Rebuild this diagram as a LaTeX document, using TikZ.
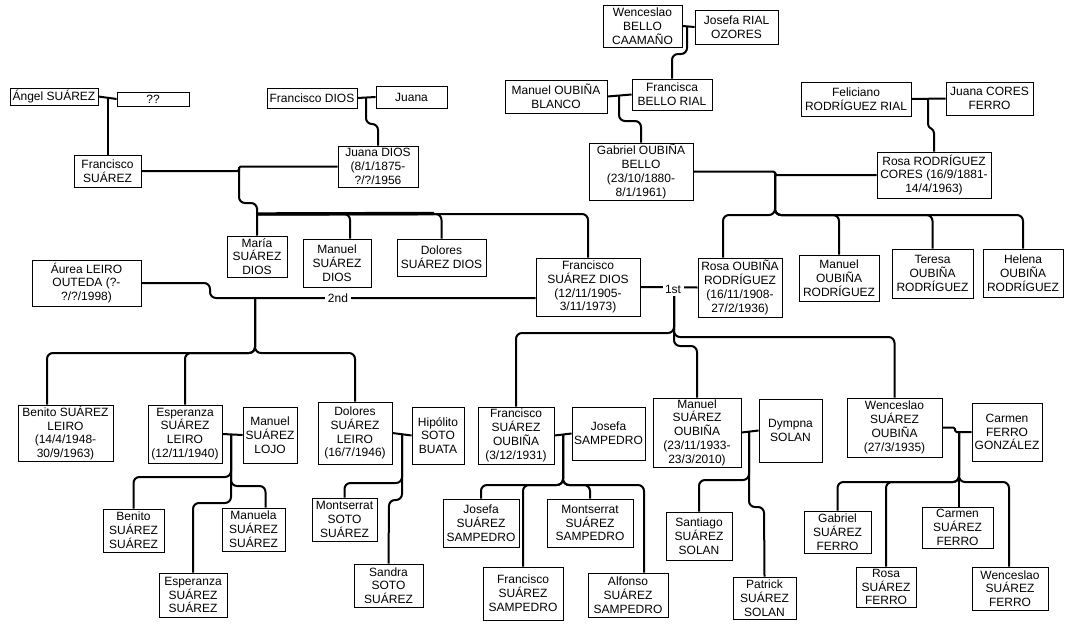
\documentclass[tikz,border=0pt]{standalone}
\usepackage{fontspec}
\setmainfont{Liberation Sans}
\tikzset{
  pbox/.style={draw, line width=0.8pt, inner sep=0pt, align=center, fill=white,
    font=\fontsize{12}{13.8}\selectfont},
  conn/.style={line width=2pt, rounded corners=6pt},
  couple/.style={line width=2pt, rounded corners=1.5pt},
  lbl/.style={fill=white, inner sep=2.5pt, font=\fontsize{12}{13.8}\selectfont}
}
\newcommand\bx[6]{\node[pbox, minimum width={#4-#2}, minimum height={#5-#3}] (#1) at ({(#2+#4)/2},{(#3+#5)/2}) {#6};}
\begin{document}
\begin{tikzpicture}[x=1pt,y=-1pt]
\useasboundingbox[fill=white] (0,0) rectangle (1083,640);
% boxes
\bx{angel}{10}{88}{98}{105}{Ángel SUÁREZ}
\bx{qq}{117}{92}{189}{106}{??}
\bx{fsu}{74}{155}{141}{187}{Francisco\\SUÁREZ}
\bx{fdi}{267}{88}{357}{108}{Francisco DIOS}
\bx{jua}{376}{86}{447}{108}{Juana}
\bx{jdi}{338}{146}{418}{187}{Juana DIOS\\(8/1/1875-\\?/?/1956}
\bx{wbc}{603}{5}{682}{47}{Wenceslao\\BELLO\\CAAMAÑO}
\bx{jro}{695}{10}{778}{44}{Josefa RIAL\\OZORES}
\bx{mob}{505}{80}{607}{113}{Manuel OUBIÑA\\BLANCO}
\bx{fbr}{632}{79}{712}{110}{Francisca\\BELLO RIAL}
\bx{gob}{589}{143}{693}{200}{Gabriel OUBIÑA\\BELLO\\(23/10/1880-\\8/1/1961)}
\bx{frr}{801}{82}{911}{116}{Feliciano\\RODRÍGUEZ RIAL}
\bx{jcf}{946}{82}{1033}{115}{Juana CORES\\FERRO}
\bx{rrc}{877}{152}{991}{198}{Rosa RODRÍGUEZ\\CORES (16/9/1881-\\14/4/1963)}
\bx{msd1}{227}{236}{287}{277}{María\\SUÁREZ\\DIOS}
\bx{msd2}{303}{239}{371}{287}{Manuel\\SUÁREZ\\DIOS}
\bx{dsd}{397}{239}{486}{276}{Dolores\\SUÁREZ DIOS}
\bx{alo}{32}{260}{141}{306}{Áurea LEIRO\\OUTEDA (?-\\?/?/1998)}
\bx{fsd}{536}{258}{640}{316}{Francisco\\SUÁREZ DIOS\\(12/11/1905-\\3/11/1973)}
\bx{rou}{698}{258}{782}{317}{Rosa OUBIÑA\\RODRÍGUEZ\\(16/11/1908-\\27/2/1936)}
\bx{mor}{799}{255}{879}{301}{Manuel\\OUBIÑA\\RODRÍGUEZ}
\bx{tor}{892}{249}{973}{298}{Teresa\\OUBIÑA\\RODRÍGUEZ}
\bx{hor}{983}{249}{1063}{297}{Helena\\OUBIÑA\\RODRÍGUEZ}
\bx{bsl}{18}{405}{113}{461}{Benito SUÁREZ\\LEIRO\\(14/4/1948-\\30/9/1963)}
\bx{esl}{148}{405}{222}{463}{Esperanza\\SUÁREZ\\LEIRO\\(12/11/1940)}
\bx{msl}{243}{407}{297}{463}{Manuel\\SUÁREZ\\LOJO}
\bx{dsl}{318}{402}{392}{464}{Dolores\\SUÁREZ\\LEIRO\\(16/7/1946)}
\bx{hsb}{412}{407}{464}{464}{Hipólito\\SOTO\\BUATA}
\bx{fso}{478}{407}{554}{464}{Francisco\\SUÁREZ\\OUBIÑA\\(3/12/1931)}
\bx{jsa}{572}{407}{645}{460}{Josefa\\SAMPEDRO}
\bx{mso}{653}{398}{741}{467}{Manuel\\SUÁREZ\\OUBIÑA\\(23/11/1933-\\23/3/2010)}
\bx{dym}{759}{399}{822}{462}{Dympna\\SOLAN}
\bx{wso}{847}{398}{942}{457}{Wenceslao\\SUÁREZ\\OUBIÑA\\(27/3/1935)}
\bx{cfg}{972}{403}{1042}{461}{Carmen\\FERRO\\GONZÁLEZ}
\bx{bss}{103}{509}{164}{552}{Benito\\SUÁREZ\\SUÁREZ}
\bx{mss}{222}{508}{285}{551}{Manuela\\SUÁREZ\\SUÁREZ}
\bx{ess}{159}{573}{227}{617}{Esperanza\\SUÁREZ\\SUÁREZ}
\bx{mts}{312}{498}{377}{541}{Montserrat\\SOTO\\SUÁREZ}
\bx{sss}{354}{564}{423}{607}{Sandra\\SOTO\\SUÁREZ}
\bx{jss}{443}{499}{519}{547}{Josefa\\SUÁREZ\\SAMPEDRO}
\bx{fss}{483}{567}{563}{620}{Francisco\\SUÁREZ\\SAMPEDRO}
\bx{mssp}{547}{499}{633}{547}{Montserrat\\SUÁREZ\\SAMPEDRO}
\bx{ass}{588}{573}{668}{617}{Alfonso\\SUÁREZ\\SAMPEDRO}
\bx{sas}{666}{512}{732}{560}{Santiago\\SUÁREZ\\SOLAN}
\bx{pss}{733}{577}{796}{619}{Patrick\\SUÁREZ\\SOLAN}
\bx{gsf}{804}{511}{871}{553}{Gabriel\\SUÁREZ\\FERRO}
\bx{rsf}{856}{567}{916}{607}{Rosa\\SUÁREZ\\FERRO}
\bx{csf}{922}{507}{993}{548}{Carmen\\SUÁREZ\\FERRO}
\bx{wsf}{972}{567}{1048}{610}{Wenceslao\\SUÁREZ\\FERRO}
% Angel + ??
\coordinate (j1) at (107.5,97.5);
\draw[couple] (angel.east) -- (qq.west);
\draw[conn] (j1) -- (fsu.north);
% Francisco DIOS + Juana
\coordinate (j2) at (366,97.5);
\draw[couple] (fdi.east) -- (jua.west);
\draw[conn] (j2) -- (366,124) -- (378,124) -- (jdi.north);
% Francisco SUAREZ + Juana DIOS
\coordinate (j3) at (239,168.5);
\draw[couple] (fsu.east) -| (j3) |- (jdi.west);
\coordinate (b1) at (257,214);
\draw[conn] (j3) -- (239,203) -- (257,203) -- (b1) -- (msd1.north);
\draw[conn] (b1) -| ([xshift=13pt]msd2.north);
\draw[conn] (b1) -| (dsd.north);
\draw[conn] (b1) -| (fsd.north);
\draw[line width=3.4pt] (b1) -- (434,213.5);
% Wenceslao BC + Josefa RO
\coordinate (j4) at (687,26.5);
\draw[couple] (wbc.east) -- (jro.west);
\draw[conn] (j4) -- (687,54) -- (672,54) -- (fbr.north);
% Manuel OB + Francisca
\coordinate (j5) at (619,95.5);
\draw[couple] (mob.east) -- (fbr.west);
\draw[conn] (j5) -- (619,121) -- (641,121) -- (gob.north);
% Feliciano + Juana CF
\coordinate (j6) at (928,99);
\draw[couple] (frr.east) -- (jcf.west);
\draw[conn, rounded corners=3pt] (j6) -- (928,127) -- (934,130) -- (rrc.north);
% Gabriel + Rosa RC
\coordinate (j7) at (775,173);
\draw[couple] (gob.east) -| (j7) |- (rrc.west);
\draw[conn] (j7) -- (775,215) -| ([xshift=-17pt]rou.north);
\draw[conn] (j7) -- (775,215) -| (mor.north);
\draw[conn] (j7) -- (775,215) -| (tor.north);
\draw[conn] (j7) -- (775,215) -| (hor.north);
% first marriage
\coordinate (j8) at (674,287);
\draw[couple] (fsd.east) -- (rou.west);
\draw[conn] (j8) -- (674,333) -| (fso.north);
\draw[conn] (j8) -- (674,337) -| (wso.north);
\draw[conn] (j8) -- (674,346) -- (697,346) -- (mso.north);
\node[lbl] (l1) at (673,289) {1st};
% second marriage
\coordinate (j9) at (255,298);
\draw[conn] (alo.east) -- (210,283) -- (210,298) -- ([yshift=-11pt]fsd.west);
\draw[conn] (j9) -- (255,353) -| ([xshift=-18.5pt]bsl.north);
\draw[conn] (j9) -- (255,353) -| (esl.north);
\draw[conn] (j9) -- (255,353) -| (dsl.north);
\node[lbl] (l2) at (338,298) {2nd};
% Esperanza + Manuel SL
\coordinate (j10) at (231,434);
\draw[couple] (esl.east) -- (msl.west);
\draw[conn] (j10) -- (231,477) -| (bss.north);
\draw[conn] (j10) -- (231,486) -| ([xshift=12pt]mss.north);
\draw[conn] (j10) -- (231,503) -- (193,503) -- (ess.north);
% Dolores + Hipolito
\coordinate (j11) at (402,434);
\draw[couple] (dsl.east) -- (hsb.west);
\draw[conn] (j11) -- (402,483) -| (mts.north);
\draw[conn] (j11) -- (402,500) -- (389,500) -- (sss.north);
% Francisco SO + Josefa S
\coordinate (j12) at (563,435);
\draw[couple] (fso.east) -- (jsa.west);
\draw[conn] (j12) -- (563,485) -| (jss.north);
\draw[conn] (j12) -- (563,485) -| (fss.north);
\draw[conn] (j12) -- (563,485) -| (mssp.north);
\draw[conn] (j12) -- (563,485) -| ([xshift=16pt]ass.north);
% Manuel SO + Dympna
\coordinate (j13) at (749,431.5);
\draw[couple] (mso.east) -- (dym.west);
\draw[conn] (j13) -- (749,480) -| (sas.north);
\draw[conn] (j13) -- (749,507) -- (764,507) -- (pss.north);
% Wenceslao SO + Carmen FG
\coordinate (j14) at (959,432);
\draw[couple] (wso.east) -| (955,432) -- (cfg.west);
\draw[conn] (j14) -- (959,482) -| (gsf.north);
\draw[conn] (j14) -- (959,482) -| (rsf.north);
\draw[conn] (j14) -- (959,482) -| ([xshift=-1pt]wsf.north);
\draw[conn] (j14) -- (csf.north -| j14);
\end{tikzpicture}
\end{document}
